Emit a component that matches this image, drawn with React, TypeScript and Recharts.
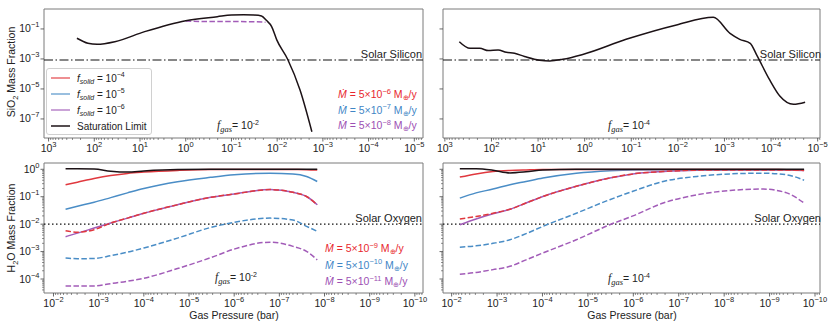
import React from 'react';
import { LineChart, Line, XAxis, YAxis, ReferenceLine, ReferenceArea, Legend } from 'recharts';

const SANS = '"Liberation Sans", Arial, Helvetica, sans-serif';
const SERIF = '"Liberation Serif", "Times New Roman", serif';

const RED = '#e0383e';
const BLUE = '#4a8dc6';
const PURPLE = '#a25cb8';
const BLACK = '#1c1216';
const RED_T = '#e8262e';
const BLUE_T = '#3f86c6';
const PURPLE_T = '#9c4fb3';

// ---------- SiO2, f_gas = 1e-2 (top left) ----------
const SIO2_A_SAT_P = [240, 138, 87, 35.5, 7.9, 1.0, 0.204, 0.1, 0.054, 0.032, 0.022, 0.017, 0.0132, 0.0102, 0.0059, 0.00316, 0.00174];
const SIO2_A_SAT_V = [0.024, 0.0112, 0.0095, 0.0141, 0.066, 0.355, 0.66, 0.85, 0.89, 0.85, 0.74, 0.36, 0.145, 0.0186, 9.5e-4, 8.5e-6, 1.4e-8];
const SIO2_A_LOW_P = [1.0, 0.3, 0.1, 0.03, 0.018];
const SIO2_A_LOW_V = [0.34, 0.31, 0.31, 0.3, 0.28];

// ---------- SiO2, f_gas = 1e-4 (top right) ----------
const SIO2_B_SAT_P = [490, 288, 178, 117, 72, 48, 32, 19.5, 9.3, 5.6, 2.95, 1.1, 0.129, 0.0107, 0.00174, 7.6e-4, 4.7e-4, 2.8e-4, 2.04e-4, 1.07e-4, 6.5e-5, 3.3e-5, 1.86e-5];
const SIO2_B_SAT_V = [0.0141, 0.0051, 0.0051, 0.0036, 0.004, 0.00275, 0.0024, 0.00145, 8.1e-4, 7.4e-4, 9.5e-4, 0.002, 0.0204, 0.186, 0.6, 0.051, 0.0204, 0.011, 0.00186, 4e-5, 3.4e-6, 9.5e-7, 1.3e-6];

// ---------- H2O, f_gas = 1e-2 (bottom left) ----------
const H2O_A_P = [5.4e-3, 2.95e-3, 1.26e-3, 5.4e-4, 2.3e-4, 1.0e-4, 1.8e-5, 3.3e-6, 1.0e-6, 1.6e-7, 5.0e-8, 2.5e-8, 1.45e-8];
const H2O_A_SAT = [1.05, 1.05, 1.02, 0.85, 0.79, 0.87, 0.98, 1.0, 1.0, 1.0, 1.0, 1.0, 1.0];
const H2O_A_RED = [0.275, 0.34, 0.46, 0.59, 0.71, 0.79, 0.91, 0.98, 0.98, 0.98, 0.98, 0.97, 0.94];
const H2O_A_BLUE = [0.035, 0.045, 0.063, 0.093, 0.138, 0.2, 0.355, 0.51, 0.63, 0.72, 0.68, 0.55, 0.36];
const H2O_A_PURPLE = [0.0035, 0.0047, 0.0072, 0.011, 0.0166, 0.025, 0.051, 0.095, 0.126, 0.182, 0.145, 0.102, 0.051];
const H2O_A_RED_D = [0.0058, 0.0051, 0.0063, 0.011, 0.0166, 0.025, 0.051, 0.095, 0.126, 0.182, 0.145, 0.102, 0.051];
const H2O_A_BLUE_D = [5.8e-4, 5.5e-4, 5.6e-4, 7.1e-4, 9.5e-4, 1.35e-3, 3.1e-3, 7.6e-3, 0.0117, 0.0166, 0.0141, 0.0083, 0.0055];
const H2O_A_PURPLE_D = [5.6e-5, 5.6e-5, 5.6e-5, 6.8e-5, 8.3e-5, 1.07e-4, 2.4e-4, 6.0e-4, 1.23e-3, 2.2e-3, 1.55e-3, 1.02e-3, 5.0e-4];

// ---------- H2O, f_gas = 1e-4 (bottom right) ----------
const H2O_B_P = [6.6e-3, 2.9e-3, 1.23e-3, 5.2e-4, 2.3e-4, 9.8e-5, 1.8e-5, 3.3e-6, 1.02e-6, 2.2e-7, 4.0e-8, 7.4e-9, 1.38e-9, 4.2e-10, 1.74e-10];
const H2O_B_SAT = [1.05, 1.05, 0.93, 0.74, 0.81, 0.95, 1.0, 1.0, 1.0, 1.0, 1.0, 1.0, 1.0, 1.0, 1.0];
const H2O_B_RED = [0.52, 0.68, 0.83, 0.91, 0.95, 0.98, 0.98, 0.98, 0.98, 0.98, 0.98, 0.98, 0.98, 0.97, 0.95];
const H2O_B_BLUE = [0.089, 0.138, 0.19, 0.275, 0.36, 0.48, 0.72, 0.89, 0.95, 0.96, 0.96, 0.96, 0.96, 0.96, 0.93];
const H2O_B_PURPLE = [0.0095, 0.0155, 0.024, 0.035, 0.059, 0.102, 0.24, 0.48, 0.68, 0.83, 0.93, 0.95, 0.95, 0.95, 0.91];
const H2O_B_RED_D = [0.0155, 0.019, 0.025, 0.035, 0.059, 0.102, 0.24, 0.48, 0.68, 0.83, 0.93, 0.95, 0.95, 0.95, 0.91];
const H2O_B_BLUE_D = [1.45e-3, 1.62e-3, 2.0e-3, 2.7e-3, 4.5e-3, 8.3e-3, 0.025, 0.078, 0.158, 0.36, 0.55, 0.68, 0.72, 0.63, 0.4];
const H2O_B_PURPLE_D = [1.5e-4, 1.74e-4, 2.2e-4, 2.9e-4, 5.0e-4, 8.9e-4, 2.7e-3, 9.5e-3, 0.02, 0.059, 0.117, 0.17, 0.19, 0.138, 0.059];

// ---------- axes ----------
const X_DECADES_SIO2 = [3, 2, 1, 0, -1, -2, -3, -4, -5];
const X_DECADES_H2O = [-2, -3, -4, -5, -6, -7, -8, -9, -10];
const Y_DECADES_SIO2 = [-1, -3, -5, -7];
const Y_DECADES_H2O = [0, -1, -2, -3, -4];
const MINOR = [2, 3, 4, 5, 6, 7, 8, 9];
const SOLAR_SILICON = 8.5e-4;
const SOLAR_OXYGEN = 1e-2;
const LEGEND_EXPS = ['−4', '−5', '−6'];
const MDOT_TOP = ['−6', '−7', '−8'];
const MDOT_BOTTOM = ['−9', '−10', '−11'];

const pts = (P: number[], V: number[]) => P.map((p, i) => ({ p, v: V[i] }));

const W = 830;
const H = 330;
const YAXIS_W = 30;
const XAXIS_H = 20;

const isMajor = (v: number) => {
  const e = Math.log10(v);
  return Math.abs(e - Math.round(e)) < 1e-6;
};
const fmtExp = (e: number) => (e < 0 ? '−' + Math.abs(e) : String(e));

function buildTicks(decades: number[], dom: number[], withMinor: boolean) {
  const out: number[] = decades.map((d) => Math.pow(10, d));
  if (withMinor) {
    const lo = Math.floor(Math.log10(dom[0]));
    const hi = Math.ceil(Math.log10(dom[1]));
    for (let d = lo; d <= hi; d++) for (const m of MINOR) out.push(m * Math.pow(10, d));
  }
  return out.filter((v) => v >= dom[0] && v <= dom[1]).sort((a, b) => a - b);
}

function XTick(props: any) {
  const { x, y, payload } = props;
  const v = payload.value;
  const major = isMajor(v);
  return (
    <g>
      <line x1={x} x2={x} y1={y} y2={y + (major ? 3.5 : 2)} stroke="#444" strokeWidth={major ? 0.8 : 0.6} />
      {major && (
        <text x={x} y={y + 14} textAnchor="middle" fontSize={10.5} fontFamily={SANS} fill="#222">
          10<tspan dy={-5} fontSize={7.5}>{fmtExp(Math.round(Math.log10(v)))}</tspan>
        </text>
      )}
    </g>
  );
}

const makeYTick = (labelled: boolean) => (props: any) => {
  const { x, y, payload } = props;
  const v = payload.value;
  const major = isMajor(v);
  return (
    <g>
      <line x1={x - (major ? 3.5 : 2)} x2={x} y1={y} y2={y} stroke="#444" strokeWidth={major ? 0.8 : 0.6} />
      {labelled && major && (
        <text x={x - 4.5} y={y + 3.5} textAnchor="end" fontSize={10.5} fontFamily={SANS} fill="#222">
          10<tspan dy={-5} fontSize={7.5}>{fmtExp(Math.round(Math.log10(v)))}</tspan>
        </text>
      )}
    </g>
  );
};

type Series = { data: { p: number; v: number }[]; color: string; dashed?: boolean };

type PanelProps = {
  box: { x: number; y: number; w: number; h: number };
  xDom: number[];
  yDom: number[];
  xTicks: number[];
  yTicks: number[];
  yLabelled: boolean;
  series: Series[];
  refY: number;
  refDash: string;
  legend?: React.ReactNode;
};

function Panel({ box, xDom, yDom, xTicks, yTicks, yLabelled, series, refY, refDash, legend }: PanelProps) {
  const margin = {
    left: box.x - YAXIS_W,
    top: box.y,
    right: W - box.x - box.w,
    bottom: H - box.y - box.h - XAXIS_H,
  };
  return (
    <div style={{ position: 'absolute', left: 0, top: 0 }}>
      <LineChart width={W} height={H} margin={margin}>
        <XAxis
          type="number"
          dataKey="p"
          scale="log"
          domain={xDom}
          reversed
          allowDataOverflow
          ticks={xTicks}
          interval={0}
          tick={(p: any) => <XTick {...p} />}
          tickLine={false}
          axisLine={false}
          tickSize={0}
          tickMargin={0}
          height={XAXIS_H}
        />
        <YAxis
          type="number"
          scale="log"
          domain={yDom}
          allowDataOverflow
          ticks={yTicks}
          interval={0}
          tick={makeYTick(yLabelled)}
          tickLine={false}
          axisLine={false}
          tickSize={0}
          tickMargin={0}
          width={YAXIS_W}
        />
        <ReferenceLine y={refY} stroke="#111" strokeWidth={1.2} strokeDasharray={refDash} />
        {series.map((s, i) => (
          <Line
            key={i}
            data={s.data}
            dataKey="v"
            type="monotone"
            stroke={s.color}
            strokeWidth={1.5}
            strokeDasharray={s.dashed ? '5.5 2.4' : undefined}
            dot={false}
            activeDot={false}
            isAnimationActive={false}
          />
        ))}
        <ReferenceArea
          x1={xDom[0]}
          x2={xDom[1]}
          y1={yDom[0]}
          y2={yDom[1]}
          fill="none"
          fillOpacity={0}
          stroke="#7a7a7a"
          strokeWidth={1}
          ifOverflow="visible"
        />
        {legend}
      </LineChart>
    </div>
  );
}

const LEGEND_ROWS = [
  { color: RED, exp: LEGEND_EXPS[0] },
  { color: BLUE, exp: LEGEND_EXPS[1] },
  { color: PURPLE, exp: LEGEND_EXPS[2] },
];

function LegendBox() {
  return (
    <svg width={106} height={67} style={{ display: 'block' }}>
      <rect x={0.5} y={0.5} width={105} height={66} rx={2.5} fill="#fff" fillOpacity={0.85} stroke="#d0d0d0" />
      {LEGEND_ROWS.map((r, i) => (
        <g key={i}>
          <line x1={5} x2={24} y1={10 + i * 16} y2={10 + i * 16} stroke={r.color} strokeOpacity={0.75} strokeWidth={1.5} />
          <text x={31} y={13.5 + i * 16} fontSize={10} fontFamily={SANS} fill="#222">
            <tspan fontStyle="italic">f</tspan>
            <tspan dy={2.5} fontSize={7} fontStyle="italic">solid</tspan>
            <tspan dy={-2.5}> = 10</tspan>
            <tspan dy={-4.5} fontSize={7}>{r.exp}</tspan>
          </text>
        </g>
      ))}
      <line x1={5} x2={24} y1={58} y2={58} stroke={BLACK} strokeWidth={1.5} />
      <text x={31} y={61.5} fontSize={10} fontFamily={SANS} fill="#222">
        Saturation Limit
      </text>
    </svg>
  );
}

function Mdot({ x, y, exp, color }: { x: number; y: number; exp: string; color: string }) {
  return (
    <text x={x} y={y} fill={color} fontSize={10.5} fontFamily={SANS}>
      <tspan fontStyle="italic">Ṁ</tspan>
      <tspan> = 5×10</tspan>
      <tspan dy={-4.5} fontSize={7.5}>{exp}</tspan>
      <tspan dy={4.5}> M</tspan>
      <tspan dy={2} fontSize={7}>⊕</tspan>
      <tspan dy={-2}>/y</tspan>
    </text>
  );
}

function Fgas({ x, y, exp }: { x: number; y: number; exp: string }) {
  return (
    <text x={x} y={y} textAnchor="middle" fontSize={10.5} fontFamily={SANS} fill="#222">
      <tspan fontFamily={SERIF} fontStyle="italic" fontSize={11.5}>f</tspan>
      <tspan dy={2.5} fontFamily={SERIF} fontStyle="italic" fontSize={8.5}>gas</tspan>
      <tspan dy={-2.5}>= 10</tspan>
      <tspan dy={-4.5} fontSize={7}>{exp}</tspan>
    </text>
  );
}

export default function App() {
  const TL = { x: 44, y: 9, w: 379, h: 129 };
  const TR = { x: 443, y: 9, w: 377, h: 129 };
  const BL = { x: 44, y: 163, w: 379, h: 130 };
  const BR = { x: 443, y: 163, w: 377, h: 130 };

  const xDomTL = [Math.pow(10, -5.19), Math.pow(10, 3.1)];
  const xDomTR = [Math.pow(10, -5.05), Math.pow(10, 3.04)];
  const xDomBL = [Math.pow(10, -10.18), Math.pow(10, -1.79)];
  const xDomBR = [Math.pow(10, -10.11), Math.pow(10, -1.81)];
  const yDomTop = [Math.pow(10, -8.27), Math.pow(10, 0.33)];
  const yDomBot = [Math.pow(10, -4.51), Math.pow(10, 0.23)];

  const yTicksTop = buildTicks(Y_DECADES_SIO2, yDomTop, false);
  const yTicksBot = buildTicks(Y_DECADES_H2O, yDomBot, true);

  const seriesTL: Series[] = [
    { data: pts(SIO2_A_LOW_P, SIO2_A_LOW_V), color: PURPLE, dashed: true },
    { data: pts(SIO2_A_SAT_P, SIO2_A_SAT_V), color: BLACK },
  ];
  const seriesTR: Series[] = [{ data: pts(SIO2_B_SAT_P, SIO2_B_SAT_V), color: BLACK }];
  const seriesBL: Series[] = [
    { data: pts(H2O_A_P, H2O_A_PURPLE), color: PURPLE },
    { data: pts(H2O_A_P, H2O_A_BLUE), color: BLUE },
    { data: pts(H2O_A_P, H2O_A_RED), color: RED },
    { data: pts(H2O_A_P, H2O_A_PURPLE_D), color: PURPLE, dashed: true },
    { data: pts(H2O_A_P, H2O_A_BLUE_D), color: BLUE, dashed: true },
    { data: pts(H2O_A_P, H2O_A_RED_D), color: RED, dashed: true },
    { data: pts(H2O_A_P, H2O_A_SAT), color: BLACK },
  ];
  const seriesBR: Series[] = [
    { data: pts(H2O_B_P, H2O_B_PURPLE), color: PURPLE },
    { data: pts(H2O_B_P, H2O_B_BLUE), color: BLUE },
    { data: pts(H2O_B_P, H2O_B_RED), color: RED },
    { data: pts(H2O_B_P, H2O_B_PURPLE_D), color: PURPLE, dashed: true },
    { data: pts(H2O_B_P, H2O_B_BLUE_D), color: BLUE, dashed: true },
    { data: pts(H2O_B_P, H2O_B_RED_D), color: RED, dashed: true },
    { data: pts(H2O_B_P, H2O_B_SAT), color: BLACK },
  ];

  const dashDot = '9 2.5 1.5 2.5';
  const dotted = '1.5 2.5';
  const mdotColors = [RED_T, BLUE_T, PURPLE_T];

  return (
    <div style={{ position: 'absolute', left: 0, top: 0, width: W, height: H, background: '#fff', fontFamily: SANS }}>
      <Panel
        box={TL}
        xDom={xDomTL}
        yDom={yDomTop}
        xTicks={buildTicks(X_DECADES_SIO2, xDomTL, true)}
        yTicks={yTicksTop}
        yLabelled
        series={seriesTL}
        refY={SOLAR_SILICON}
        refDash={dashDot}
        legend={
          <Legend
            content={() => <LegendBox />}
            layout="vertical"
            align="center"
            verticalAlign="middle"
            wrapperStyle={{ left: 46, top: 68, width: 106, height: 67 }}
          />
        }
      />
      <Panel
        box={TR}
        xDom={xDomTR}
        yDom={yDomTop}
        xTicks={buildTicks(X_DECADES_SIO2, xDomTR, true)}
        yTicks={yTicksTop}
        yLabelled={false}
        series={seriesTR}
        refY={SOLAR_SILICON}
        refDash={dashDot}
      />
      <Panel
        box={BL}
        xDom={xDomBL}
        yDom={yDomBot}
        xTicks={buildTicks(X_DECADES_H2O, xDomBL, true)}
        yTicks={yTicksBot}
        yLabelled
        series={seriesBL}
        refY={SOLAR_OXYGEN}
        refDash={dotted}
      />
      <Panel
        box={BR}
        xDom={xDomBR}
        yDom={yDomBot}
        xTicks={buildTicks(X_DECADES_H2O, xDomBR, true)}
        yTicks={yTicksBot}
        yLabelled={false}
        series={seriesBR}
        refY={SOLAR_OXYGEN}
        refDash={dotted}
      />
      <svg width={W} height={H} style={{ position: 'absolute', left: 0, top: 0, pointerEvents: 'none' }} fontFamily={SANS}>
        <text transform="translate(15,72) rotate(-90)" textAnchor="middle" fontSize={10.5} fill="#222">
          SiO<tspan dy={2.5} fontSize={7.5}>2</tspan>
          <tspan dy={-2.5}> Mass Fraction</tspan>
        </text>
        <text transform="translate(15,228) rotate(-90)" textAnchor="middle" fontSize={10.5} fill="#222">
          H<tspan dy={2.5} fontSize={7.5}>2</tspan>
          <tspan dy={-2.5}>O Mass Fraction</tspan>
        </text>
        <text x={234} y={319} textAnchor="middle" fontSize={10.5} fill="#222">Gas Pressure (bar)</text>
        <text x={632} y={319} textAnchor="middle" fontSize={10.5} fill="#222">Gas Pressure (bar)</text>

        <text x={422} y={58} textAnchor="end" fontSize={11} fill="#222">Solar Silicon</text>
        <text x={821} y={58} textAnchor="end" fontSize={11} fill="#222">Solar Silicon</text>
        <text x={422} y={221.5} textAnchor="end" fontSize={11} fill="#222">Solar Oxygen</text>
        <text x={821} y={221.5} textAnchor="end" fontSize={11} fill="#222">Solar Oxygen</text>

        {MDOT_TOP.map((e, i) => (
          <Mdot key={'t' + i} x={338} y={98 + i * 15.5} exp={e} color={mdotColors[i]} />
        ))}
        {MDOT_BOTTOM.map((e, i) => (
          <Mdot key={'b' + i} x={325} y={252 + i * 16.5} exp={e} color={mdotColors[i]} />
        ))}

        <Fgas x={238} y={129} exp="-2" />
        <Fgas x={629} y={129} exp="-4" />
        <Fgas x={236} y={281} exp="-2" />
        <Fgas x={629} y={282} exp="-4" />
      </svg>
    </div>
  );
}
